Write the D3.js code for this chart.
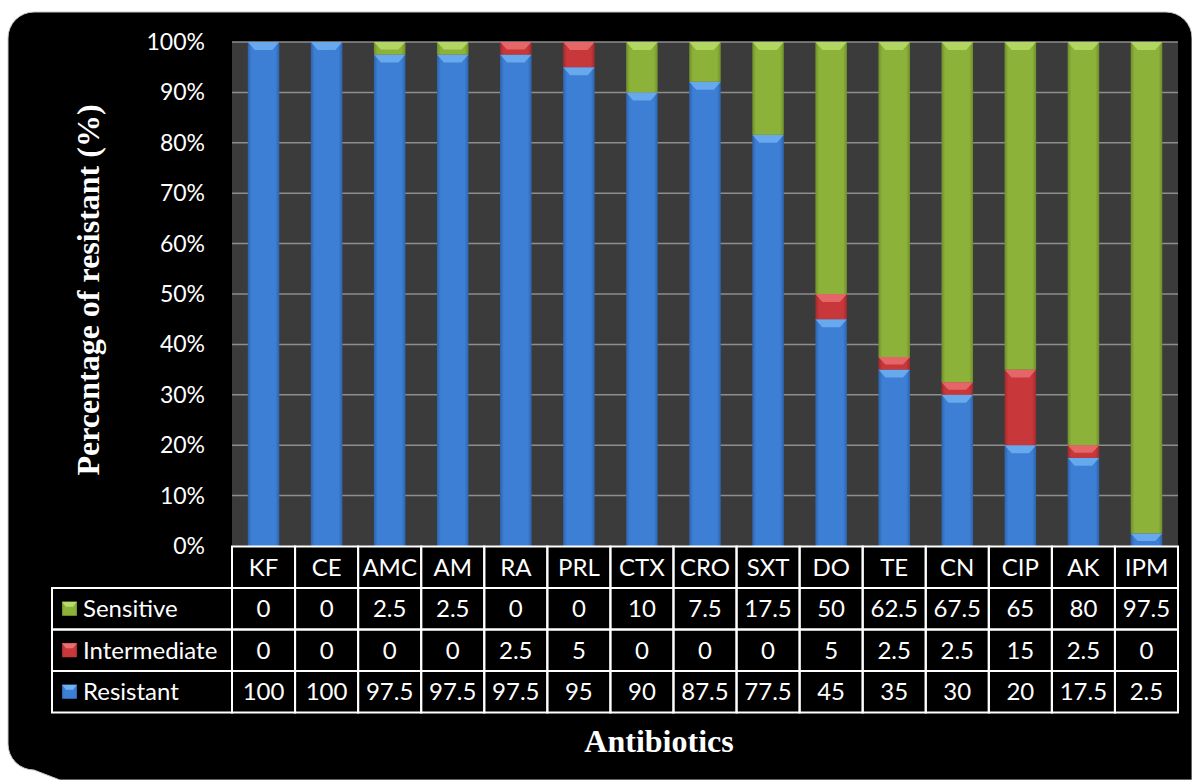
<!DOCTYPE html>
<html>
<head>
<meta charset="utf-8">
<script src="https://cdn.jsdelivr.net/npm/d3@7.9.0/dist/d3.min.js"></script>
<style>
  html, body { margin: 0; padding: 0; background: #fff; }
  svg { display: block; }
  .tick-label, .cell { font-family: Lato, "Open Sans", sans-serif; fill: #fff; }
  .title { font-family: "Liberation Serif", "DejaVu Serif", serif; font-weight: bold; fill: #fff; }
</style>
</head>
<body>
<svg id="chart" width="1192" height="780"></svg>
<script>
const categories = ["KF", "CE", "AMC", "AM", "RA", "PRL", "CTX", "CRO", "SXT", "DO", "TE", "CN", "CIP", "AK", "IPM"];
const resistant = [100, 100, 97.5, 97.5, 97.5, 95, 90, 87.5, 77.5, 45, 35, 30, 20, 17.5, 2.5];
const intermediate = [0, 0, 0, 0, 2.5, 5, 0, 0, 0, 5, 2.5, 2.5, 15, 2.5, 0];
const sensitive = [0, 0, 2.5, 2.5, 0, 0, 10, 7.5, 17.5, 50, 62.5, 67.5, 65, 80, 97.5];
const seriesNames = ["Resistant", "Intermediate", "Sensitive"];
const yTicks = [0, 0.1, 0.2, 0.3, 0.4, 0.5, 0.6, 0.7, 0.8, 0.9, 1];

const rows = categories.map((c, i) => ({
  cat: c, Resistant: resistant[i], Intermediate: intermediate[i], Sensitive: sensitive[i]
}));

const colors = {
  Resistant: { base: "#3d7fd4", dark: "#2d63ad", light: "#6fb0f0" },
  Intermediate: { base: "#c8373a", dark: "#9e2a2d", light: "#ea6f72" },
  Sensitive: { base: "#8db23a", dark: "#6f8f2b", light: "#b8dc6a" }
};

const svg = d3.select("#chart");

// dark rounded background, runs off the bottom right
svg.append("path")
  .attr("d", "M8,38 A26,26 0 0 1 34,12 H1166 A26,26 0 0 1 1192,38 V780 H60 L34,770 A26,26 0 0 1 8,744 Z")
  .attr("fill", "#000")
  .attr("stroke", "#c8c8c8")
  .attr("stroke-width", 1);

const plotLeft = 232, plotRight = 1178, plotTop = 42, plotBottom = 546;

const x = d3.scaleBand().domain(categories).range([plotLeft, plotRight]).paddingInner(0.5).paddingOuter(0.25);
const xCol = d3.scaleBand().domain(categories).range([plotLeft, plotRight]);
const y = d3.scaleLinear().domain([0, 1]).range([plotBottom, plotTop]);

// gradients
const defs = svg.append("defs");
seriesNames.forEach(k => {
  const g = defs.append("linearGradient").attr("id", "g-" + k).attr("x1", 0).attr("x2", 1).attr("y1", 0).attr("y2", 0);
  g.append("stop").attr("offset", "0%").attr("stop-color", colors[k].dark);
  g.append("stop").attr("offset", "12%").attr("stop-color", colors[k].base);
  g.append("stop").attr("offset", "88%").attr("stop-color", colors[k].base);
  g.append("stop").attr("offset", "100%").attr("stop-color", colors[k].dark);
});

// plot area
svg.append("rect")
  .attr("x", plotLeft).attr("y", plotTop).attr("width", plotRight - plotLeft).attr("height", plotBottom - plotTop)
  .attr("fill", "#3b3b3b");

// gridlines
svg.append("g")
  .selectAll("line")
  .data(yTicks.slice(1))
  .join("line")
  .attr("x1", plotLeft).attr("x2", plotRight)
  .attr("y1", d => y(d)).attr("y2", d => y(d))
  .attr("stroke", "#8e8e8e").attr("stroke-width", 1.5);

// y axis labels
svg.append("g")
  .selectAll("text")
  .data(yTicks)
  .join("text")
  .attr("class", "tick-label")
  .attr("x", 205)
  .attr("y", d => y(d))
  .attr("dy", "0.35em")
  .attr("text-anchor", "end")
  .attr("font-size", 23)
  .text(d3.format(".0%"));

// stacked bars
const stack = d3.stack().keys(seriesNames).offset(d3.stackOffsetExpand);
const series = stack(rows);
const bw = x.bandwidth();

series.forEach(s => {
  const k = s.key;
  const g = svg.append("g");
  const segs = s.filter(d => d[1] - d[0] > 0);
  g.selectAll("rect")
    .data(segs)
    .join("rect")
    .attr("x", d => x(d.data.cat))
    .attr("y", d => y(d[1]))
    .attr("width", bw)
    .attr("height", d => y(d[0]) - y(d[1]))
    .attr("fill", `url(#g-${k})`);
  // bevel on top of each segment
  g.selectAll("path")
    .data(segs)
    .join("path")
    .attr("d", d => {
      const x0 = x(d.data.cat), x1 = x0 + bw, yt = y(d[1]);
      const h = Math.min(8, (y(d[0]) - y(d[1])) * 0.6);
      return `M${x0},${yt} H${x1} L${x1 - 7},${yt + h} H${x0 + 7} Z`;
    })
    .attr("fill", colors[k].light)
    .attr("opacity", 0.85);
});

// data table
const rowH = 41.5;
const headerTop = 546.5;
const tableLeft = 52;
const tableFont = 24;
const tableRows = [
  { name: "Sensitive", values: sensitive },
  { name: "Intermediate", values: intermediate },
  { name: "Resistant", values: resistant }
];
const tbl = svg.append("g");
const lineStyle = sel => sel.attr("stroke", "#fff").attr("stroke-width", 2).attr("fill", "none");

// header row cells
categories.forEach(c => {
  tbl.append("rect").attr("x", xCol(c)).attr("y", headerTop)
    .attr("width", xCol.bandwidth()).attr("height", rowH).call(lineStyle);
  tbl.append("text").attr("class", "cell")
    .attr("x", xCol(c) + xCol.bandwidth() / 2).attr("y", headerTop + rowH / 2)
    .attr("dy", "0.36em").attr("text-anchor", "middle").attr("font-size", tableFont)
    .text(c);
});

tableRows.forEach((r, ri) => {
  const yy = headerTop + rowH * (ri + 1);
  tbl.append("rect").attr("x", tableLeft).attr("y", yy)
    .attr("width", plotLeft - tableLeft).attr("height", rowH).call(lineStyle);
  const k = r.name;
  tbl.append("rect").attr("x", 62).attr("y", yy + rowH / 2 - 7)
    .attr("width", 15).attr("height", 14).attr("fill", `url(#g-${k})`);
  tbl.append("path")
    .attr("d", `M62,${yy + rowH / 2 - 7} H77 L73,${yy + rowH / 2 - 2} H66 Z`)
    .attr("fill", colors[k].light);
  tbl.append("text").attr("class", "cell")
    .attr("x", 83).attr("y", yy + rowH / 2).attr("dy", "0.36em")
    .attr("font-size", tableFont).text(r.name);
  categories.forEach((c, i) => {
    tbl.append("rect").attr("x", xCol(c)).attr("y", yy)
      .attr("width", xCol.bandwidth()).attr("height", rowH).call(lineStyle);
    tbl.append("text").attr("class", "cell")
      .attr("x", xCol(c) + xCol.bandwidth() / 2).attr("y", yy + rowH / 2)
      .attr("dy", "0.36em").attr("text-anchor", "middle").attr("font-size", tableFont)
      .text(r.values[i]);
  });
});

// axis titles
svg.append("text").attr("class", "title")
  .attr("x", 659).attr("y", 752)
  .attr("text-anchor", "middle").attr("font-size", 32)
  .text("Antibiotics");

svg.append("text").attr("class", "title")
  .attr("transform", "translate(99,290) rotate(-90)")
  .attr("text-anchor", "middle").attr("font-size", 32)
  .text("Percentage of resistant (%)");
</script>
</body>
</html>
